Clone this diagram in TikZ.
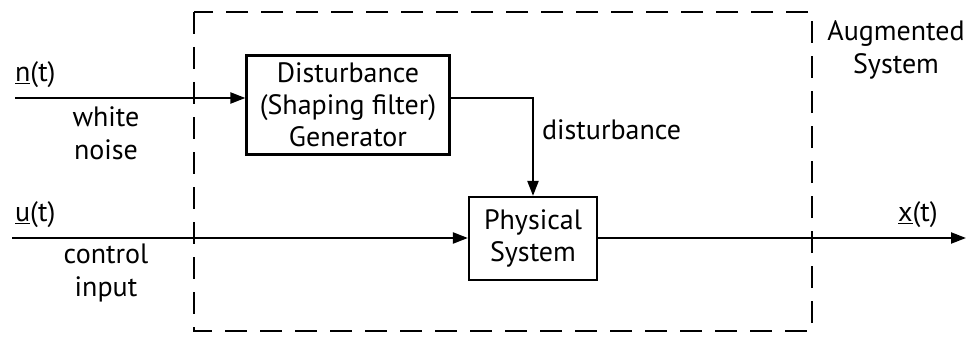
\documentclass[tikz,border=0pt]{standalone}
\usepackage{fontspec}
\setmainfont{PT Sans}
\usetikzlibrary{arrows.meta}
\begin{document}
\begin{tikzpicture}[x=1pt,y=-1pt,
  line width=2.2pt,
  blk/.style={draw,line width=2.2pt,inner sep=0pt,align=center,font=\fontsize{28}{32}\selectfont},
  lbl/.style={inner sep=0pt,align=center,font=\fontsize{28}{33}\selectfont},
  arr/.style={-{Triangle[length=15pt,width=11pt]}}]
\useasboundingbox (0,0) rectangle (975,345);
% dashed augmented system box
\draw[dash pattern=on 22pt off 13pt] (194,12) rectangle (812,331);
\node[blk,minimum width=203pt,minimum height=99pt] (dist) at (348,105) {Disturbance\\(Shaping filter)\\Generator};
\node[blk,minimum width=128pt,minimum height=83pt] (phys) at (533,238.5) {Physical\\System};
\coordinate (nin) at (15,98);
\coordinate (uin) at (12,238);
\coordinate (xout) at (966,238);
\draw[arr] (nin) -- (nin -| dist.west);
\draw[arr] (uin) -- (uin -| phys.west);
\draw[arr] (phys.east |- xout) -- (xout);
\draw[arr] (dist.east |- nin) -| (phys.north);
\node[lbl,anchor=west] (nl) at (14,75) {\underline{n}(t)};
\node[lbl] (wn) at (106,133) {white\\noise};
\node[lbl,anchor=west] (ul) at (14,215) {\underline{u}(t)};
\node[lbl] (ci) at (106,273) {control\\input};
\node[lbl,anchor=west] (dl) at (541,130) {disturbance};
\node[lbl,anchor=west] (xl) at (897,215) {\underline{x}(t)};
\node[lbl] (aug) at (896,50) {Augmented\\System};
\end{tikzpicture}
\end{document}
